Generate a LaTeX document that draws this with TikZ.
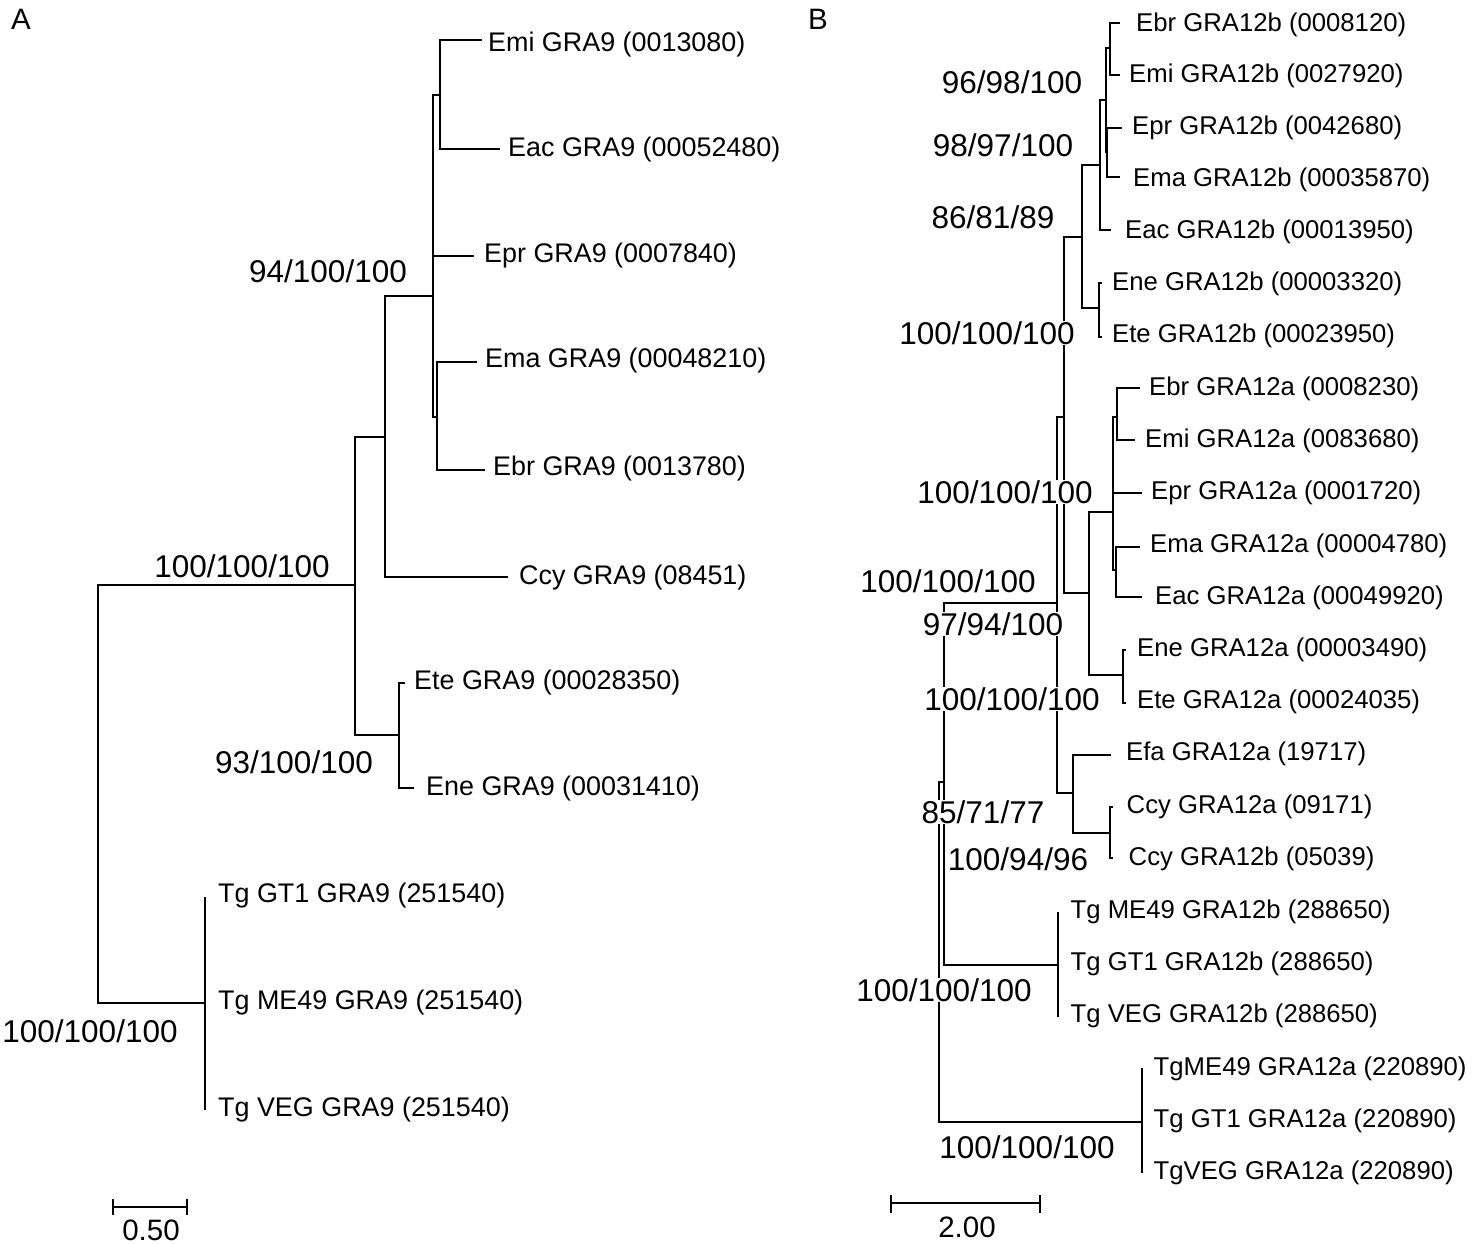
\documentclass[tikz,border=0pt]{standalone}
\usepackage{fontspec}
\setmainfont{Liberation Sans}
\begin{document}
\begin{tikzpicture}[x=1pt,y=-1pt,
  brA/.style={line width=2.4pt},
  brB/.style={line width=1.4pt},
  leafA/.style={anchor=base west,inner sep=0pt,font=\fontsize{26.9}{30}\selectfont},
  leafB/.style={anchor=base west,inner sep=0pt,font=\fontsize{25.7}{29}\selectfont},
  boot/.style={anchor=base,inner sep=0pt,font=\fontsize{31.5}{35}\selectfont},
  bootB/.style={boot,fill=white,inner sep=0.6pt},
  scl/.style={anchor=base,inner sep=0pt,font=\fontsize{29.5}{33}\selectfont}]
\useasboundingbox (0,0) rectangle (1476,1244);

% ================= Panel A =================
\node[scl] (labA) at (21,30) {A};
\coordinate (A0) at (98,794);
\coordinate (A1) at (355,585);
\coordinate (A2) at (385,437);
\coordinate (A3) at (433,296);
\coordinate (A4) at (440,95);
\coordinate (A6) at (437,417);
\coordinate (A5) at (399,735);
\coordinate (Atg) at (205,1003);
\coordinate (aEmi) at (482,40);
\coordinate (aEac) at (500,149);
\coordinate (aEpr) at (474,256);
\coordinate (aEma) at (477,362);
\coordinate (aEbr) at (485,470);
\coordinate (aCcy) at (508,577);
\coordinate (aEte) at (405,683);
\coordinate (aEne) at (414,788);
\coordinate (aGT1) at (205,897);
\coordinate (aVEG) at (205,1110);

\draw[brA] (A0) |- (A1);
\draw[brA] (A0) |- (Atg);
\draw[brA] (A1) |- (A2);
\draw[brA] (A1) |- (A5);
\draw[brA] (A2) |- (A3);
\draw[brA] (A2) |- (aCcy);
\draw[brA] (A3) |- (A4);
\draw[brA] (A3) |- (aEpr);
\draw[brA] (A3) |- (A6);
\draw[brA] (A4) |- (aEmi);
\draw[brA] (A4) |- (aEac);
\draw[brA] (A6) |- (aEma);
\draw[brA] (A6) |- (aEbr);
\draw[brA] (A5) |- (aEte);
\draw[brA] (A5) |- (aEne);
\draw[brA] (aGT1) -- (Atg) -- (aVEG);

\node[leafA] (tAEmi) at (488,51.6) {Emi GRA9 (0013080)};
\node[leafA] (tAEac) at (508,156.6) {Eac GRA9 (00052480)};
\node[leafA] (tAEpr) at (484,262.6) {Epr GRA9 (0007840)};
\node[leafA] (tAEma) at (485,367.6) {Ema GRA9 (00048210)};
\node[leafA] (tAEbr) at (493,475.6) {Ebr GRA9 (0013780)};
\node[leafA] (tACcy) at (519,584.6) {Ccy GRA9 (08451)};
\node[leafA] (tAEte) at (414,689.6) {Ete GRA9 (00028350)};
\node[leafA] (tAEne) at (426,795.6) {Ene GRA9 (00031410)};
\node[leafA] (tAGT1) at (218,902.6) {Tg GT1 GRA9 (251540)};
\node[leafA] (tAME49) at (218,1009.6) {Tg ME49 GRA9 (251540)};
\node[leafA] (tAVEG) at (218,1116.6) {Tg VEG GRA9 (251540)};

\node[boot] (bA1) at (328,282.3) {94/100/100};
\node[boot] (bA2) at (242,577.8) {100/100/100};
\node[boot] (bA3) at (294,773.3) {93/100/100};
\node[boot] (bA4) at (90,1042.3) {100/100/100};

\coordinate (sa1) at (113,1207);
\coordinate (sa2) at (187,1207);
\draw[brA] (sa1) -- (sa2);
\draw[brA] (113,1199) -- (113,1215);
\draw[brA] (187,1199) -- (187,1215);
\node[scl] (sclA) at (151,1240.6) {0.50};

% ================= Panel B =================
\node[scl] (labB) at (818,29.5) {B};
\coordinate (B0) at (939,952);
\coordinate (BD) at (944,782);
\coordinate (BC) at (1057,603);
\coordinate (B7) at (1064,417);
\coordinate (B6) at (1082,237);
\coordinate (B4) at (1100,165);
\coordinate (B3) at (1106,100);
\coordinate (B1) at (1110,48);
\coordinate (B2) at (1107,152);
\coordinate (Bb5) at (1099,308);
\coordinate (Ba2) at (1089,593);
\coordinate (Ba3) at (1113,512);
\coordinate (Ba4) at (1117,417);
\coordinate (Ba5) at (1116,570);
\coordinate (Ba6) at (1123,675);
\coordinate (Bc) at (1073,793);
\coordinate (Bcc) at (1110,833);
\coordinate (Btgb) at (1058,965);
\coordinate (Btga) at (1142,1122);

\coordinate (bEbr) at (1120,23);
\coordinate (bEmi) at (1120,75);
\coordinate (bEpr) at (1122,128);
\coordinate (bEma) at (1120,177);
\coordinate (bEac) at (1111,230);
\coordinate (bEne) at (1102,283);
\coordinate (bEte) at (1102,337);
\coordinate (cEbr) at (1140,388);
\coordinate (cEmi) at (1135,440);
\coordinate (cEpr) at (1142,493);
\coordinate (cEma) at (1140,547);
\coordinate (cEac) at (1142,597);
\coordinate (cEne) at (1126,650);
\coordinate (cEte) at (1126,703);
\coordinate (cEfa) at (1111,755);
\coordinate (cCcya) at (1113,807);
\coordinate (cCcyb) at (1113,858);
\coordinate (tgb1) at (1058,912);
\coordinate (tgb3) at (1058,1017);
\coordinate (tga1) at (1142,1068);
\coordinate (tga3) at (1142,1173);

\draw[brB] (B0) |- (BD);
\draw[brB] (B0) |- (Btga);
\draw[brB] (BD) |- (BC);
\draw[brB] (BD) |- (Btgb);
\draw[brB] (BC) |- (B7);
\draw[brB] (BC) |- (Bc);
\draw[brB] (B7) |- (B6);
\draw[brB] (B7) |- (Ba2);
\draw[brB] (B6) |- (B4);
\draw[brB] (B6) |- (Bb5);
\draw[brB] (B4) |- (B3);
\draw[brB] (B4) |- (bEac);
\draw[brB] (B3) |- (B1);
\draw[brB] (B3) |- (B2);
\draw[brB] (B1) |- (bEbr);
\draw[brB] (B1) |- (bEmi);
\draw[brB] (B2) |- (bEpr);
\draw[brB] (B2) |- (bEma);
\draw[brB] (Bb5) |- (bEne);
\draw[brB] (Bb5) |- (bEte);
\draw[brB] (Ba2) |- (Ba3);
\draw[brB] (Ba2) |- (Ba6);
\draw[brB] (Ba3) |- (Ba4);
\draw[brB] (Ba3) |- (cEpr);
\draw[brB] (Ba3) |- (Ba5);
\draw[brB] (Ba4) |- (cEbr);
\draw[brB] (Ba4) |- (cEmi);
\draw[brB] (Ba5) |- (cEma);
\draw[brB] (Ba5) |- (cEac);
\draw[brB] (Ba6) |- (cEne);
\draw[brB] (Ba6) |- (cEte);
\draw[brB] (Bc) |- (cEfa);
\draw[brB] (Bc) |- (Bcc);
\draw[brB] (Bcc) |- (cCcya);
\draw[brB] (Bcc) |- (cCcyb);
\draw[brB] (tgb1) -- (Btgb) -- (tgb3);
\draw[brB] (tga1) -- (Btga) -- (tga3);

\node[leafB] (tBEbrb) at (1136,31.2) {Ebr GRA12b (0008120)};
\node[leafB] (tBEmib) at (1129,82.2) {Emi GRA12b (0027920)};
\node[leafB] (tBEprb) at (1132,134.2) {Epr GRA12b (0042680)};
\node[leafB] (tBEmab) at (1133,186.2) {Ema GRA12b (00035870)};
\node[leafB] (tBEacb) at (1125,238.2) {Eac GRA12b (00013950)};
\node[leafB] (tBEneb) at (1112,290.2) {Ene GRA12b (00003320)};
\node[leafB] (tBEteb) at (1112,342.2) {Ete GRA12b (00023950)};
\node[leafB] (tBEbra) at (1149,395.2) {Ebr GRA12a (0008230)};
\node[leafB] (tBEmia) at (1145,447.2) {Emi GRA12a (0083680)};
\node[leafB] (tBEpra) at (1151,499.2) {Epr GRA12a (0001720)};
\node[leafB] (tBEmaa) at (1150,552.2) {Ema GRA12a (00004780)};
\node[leafB] (tBEaca) at (1155,604.2) {Eac GRA12a (00049920)};
\node[leafB] (tBEnea) at (1137,656.2) {Ene GRA12a (00003490)};
\node[leafB] (tBEtea) at (1137,708.2) {Ete GRA12a (00024035)};
\node[leafB] (tBEfaa) at (1126,760.2) {Efa GRA12a (19717)};
\node[leafB] (tBCcya) at (1126.5,813.2) {Ccy GRA12a (09171)};
\node[leafB] (tBCcyb) at (1128.5,865.2) {Ccy GRA12b (05039)};
\node[leafB] (tBME49b) at (1070.5,918.2) {Tg ME49 GRA12b (288650)};
\node[leafB] (tBGT1b) at (1070.5,970.2) {Tg GT1 GRA12b (288650)};
\node[leafB] (tBVEGb) at (1070.5,1022.2) {Tg VEG GRA12b (288650)};
\node[leafB] (tBME49a) at (1153.5,1075.2) {TgME49 GRA12a (220890)};
\node[leafB] (tBGT1a) at (1153.5,1127.2) {Tg GT1 GRA12a (220890)};
\node[leafB] (tBVEGa) at (1153.5,1179.2) {TgVEG GRA12a (220890)};

\node[bootB] (bB1) at (1012,93.8) {96/98/100};
\node[bootB] (bB2) at (1003,156.3) {98/97/100};
\node[bootB] (bB3) at (993,228.3) {86/81/89};
\node[bootB] (bB4) at (987,344.3) {100/100/100};
\node[bootB] (bB5) at (1005,503.3) {100/100/100};
\node[bootB] (bB6) at (948,592.3) {100/100/100};
\node[bootB] (bB7) at (993,635.3) {97/94/100};
\node[bootB] (bB8) at (1012,710.3) {100/100/100};
\node[bootB] (bB9) at (983,823.3) {85/71/77};
\node[bootB] (bB10) at (1018,870.3) {100/94/96};
\node[bootB] (bB11) at (944,1001.3) {100/100/100};
\node[bootB] (bB12) at (1027,1158.3) {100/100/100};

\coordinate (sb1) at (891,1203);
\coordinate (sb2) at (1040,1203);
\draw[brB] (sb1) -- (sb2);
\draw[brB] (891,1195) -- (891,1213);
\draw[brB] (1040,1195) -- (1040,1213);
\node[scl] (sclB) at (967,1237.6) {2.00};
\end{tikzpicture}
\end{document}
